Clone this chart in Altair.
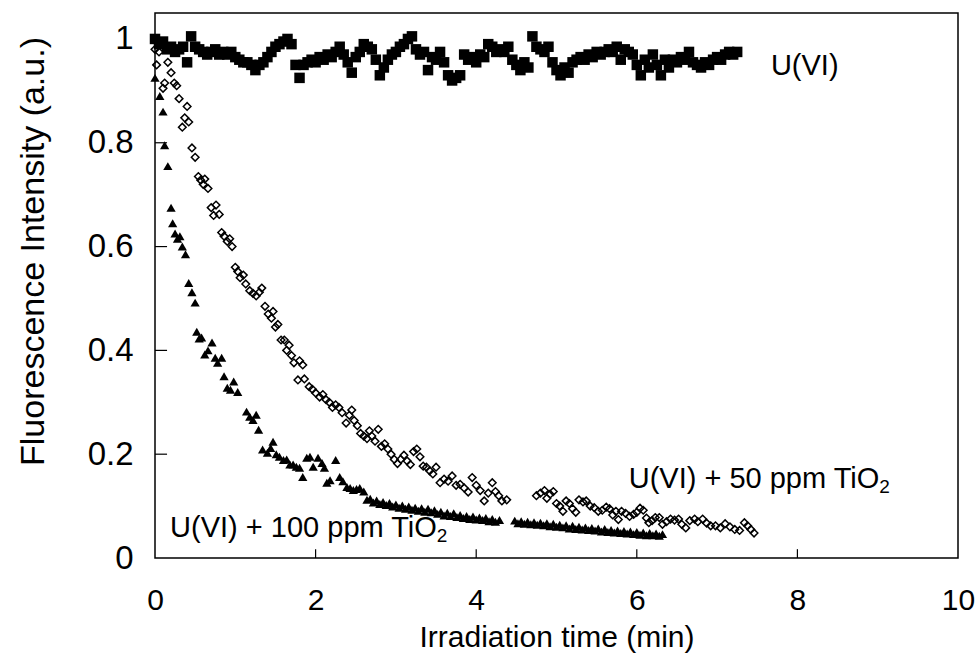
import altair as alt
import pandas as pd

# ---- U(VI) alone (filled squares)
u_time = [0.00, 0.05, 0.10, 0.15, 0.20, 0.25, 0.30, 0.35, 0.40, 0.45,
          0.50, 0.55, 0.60, 0.65, 0.70, 0.75, 0.80, 0.85, 0.90, 0.95,
          1.00, 1.05, 1.10, 1.15, 1.20, 1.25, 1.30, 1.35, 1.40, 1.45,
          1.50, 1.55, 1.60, 1.65, 1.70, 1.75, 1.80, 1.85, 1.90, 1.95,
          2.00, 2.05, 2.10, 2.15, 2.20, 2.25, 2.30, 2.35, 2.40, 2.45,
          2.50, 2.55, 2.60, 2.65, 2.70, 2.75, 2.80, 2.85, 2.90, 2.95,
          3.00, 3.05, 3.10, 3.15, 3.20, 3.25, 3.30, 3.35, 3.40, 3.45,
          3.50, 3.55, 3.60, 3.65, 3.70, 3.75, 3.80, 3.85, 3.90, 3.95,
          4.00, 4.05, 4.10, 4.15, 4.20, 4.25, 4.30, 4.35, 4.40, 4.45,
          4.50, 4.55, 4.60, 4.65, 4.70, 4.75, 4.80, 4.85, 4.90, 4.95,
          5.00, 5.05, 5.10, 5.15, 5.20, 5.25, 5.30, 5.35, 5.40, 5.45,
          5.50, 5.55, 5.60, 5.65, 5.70, 5.75, 5.80, 5.85, 5.90, 5.95,
          6.00, 6.05, 6.10, 6.15, 6.20, 6.25, 6.30, 6.35, 6.40, 6.45,
          6.50, 6.55, 6.60, 6.65, 6.70, 6.75, 6.80, 6.85, 6.90, 6.95,
          7.00, 7.05, 7.10, 7.15, 7.20, 7.25]
u_int = [1.000, 0.990, 0.995, 0.980, 0.985, 0.975, 0.980, 0.985, 0.955,
         1.005, 0.985, 0.980, 0.975, 0.970, 0.975, 0.980, 0.970, 0.975, 0.970, 0.975,
         0.965, 0.960, 0.955, 0.955, 0.950, 0.940, 0.950,
         0.955, 0.965, 0.975, 0.985, 0.990, 0.995, 1.000,
         0.990, 0.950, 0.925,
         0.950, 0.955, 0.960, 0.955, 0.965, 0.960, 0.970, 0.965, 0.975,
         0.985, 0.970, 0.955, 0.935, 0.965, 0.975, 0.990, 0.985, 0.980,
         0.960, 0.930, 0.945,
         0.960, 0.970, 0.975, 0.985, 0.990, 1.000, 1.005,
         0.980, 0.970, 0.975, 0.940, 0.965, 0.960, 0.975, 0.955,
         0.930, 0.920, 0.925, 0.930,
         0.970, 0.960, 0.965, 0.955, 0.970, 0.965,
         0.990, 0.985, 0.975, 0.980, 0.975, 0.985,
         0.960, 0.950, 0.940, 0.955, 0.945,
         1.005,
         0.985, 0.980, 0.975, 0.985,
         0.955, 0.940, 0.930, 0.945, 0.935, 0.955,
         0.960, 0.965, 0.960, 0.970, 0.965, 0.975, 0.970, 0.975,
         0.980, 0.975, 0.985, 0.960, 0.980, 0.975,
         0.970, 0.950, 0.930, 0.960, 0.945,
         0.970, 0.950, 0.930, 0.960, 0.945,
         0.960, 0.955, 0.965, 0.960, 0.975,
         0.955, 0.950, 0.945, 0.955, 0.950, 0.960,
         0.965, 0.960, 0.970, 0.975, 0.970, 0.975]

# ---- U(VI) + 50 ppm TiO2 (open diamonds)
t50_time = [0.00, 0.02, 0.05, 0.10, 0.12, 0.16, 0.20, 0.24, 0.27, 0.30,
            0.34, 0.37, 0.40, 0.42, 0.46, 0.50, 0.54, 0.57, 0.60, 0.62,
            0.66, 0.70, 0.73, 0.76, 0.80, 0.83, 0.86, 0.90, 0.93, 0.96,
            1.00, 1.03, 1.06, 1.10, 1.13, 1.18, 1.22, 1.26, 1.30, 1.33,
            1.37, 1.41, 1.45, 1.47, 1.50, 1.53, 1.57, 1.61, 1.64, 1.67,
            1.70, 1.73, 1.78, 1.80, 1.84, 1.86, 1.92, 1.96, 2.00, 2.05,
            2.09, 2.13, 2.17, 2.21, 2.25, 2.29, 2.33, 2.38, 2.42, 2.45,
            2.48, 2.52, 2.56, 2.60, 2.64, 2.67, 2.70, 2.74, 2.78, 2.82,
            2.86, 2.90, 2.94, 2.98, 3.02, 3.06, 3.10, 3.14, 3.18, 3.22,
            3.26, 3.30, 3.34, 3.38, 3.42, 3.46, 3.50, 3.55, 3.60, 3.65,
            3.70, 3.75, 3.80, 3.85, 3.90, 3.95, 4.00, 4.05, 4.10, 4.15,
            4.20, 4.24, 4.28, 4.32, 4.38,
            4.75, 4.80, 4.85, 4.88, 4.92, 4.96, 5.00, 5.04, 5.08, 5.12,
            5.16, 5.20, 5.24, 5.28, 5.33, 5.37, 5.42, 5.47, 5.52, 5.57,
            5.62, 5.66, 5.70, 5.74, 5.77, 5.81, 5.86, 5.91, 5.96, 6.00,
            6.04, 6.08, 6.12, 6.15, 6.19, 6.23, 6.28, 6.32, 6.37, 6.42,
            6.47, 6.52, 6.56, 6.61, 6.66, 6.72, 6.76, 6.82, 6.87, 6.92,
            6.98, 7.04, 7.10, 7.16, 7.22, 7.28, 7.34, 7.38, 7.42, 7.46]
t50_int = [0.980, 0.950, 0.975, 0.905, 0.915, 0.955, 0.935, 0.915, 0.910, 0.885,
           0.830, 0.848, 0.870, 0.840, 0.790, 0.772, 0.735, 0.728, 0.720, 0.730,
           0.712, 0.675, 0.660, 0.680, 0.662, 0.627, 0.620, 0.610, 0.615, 0.600,
           0.560, 0.552, 0.540, 0.545, 0.528, 0.515, 0.510, 0.505, 0.512, 0.520,
           0.485, 0.470, 0.462, 0.475, 0.445, 0.450, 0.420, 0.420, 0.400, 0.410,
           0.390, 0.376, 0.343, 0.380, 0.372, 0.345, 0.330, 0.325, 0.318, 0.310,
           0.315, 0.305, 0.300, 0.290, 0.295, 0.290, 0.280, 0.260, 0.275, 0.285,
           0.265, 0.255, 0.240, 0.235, 0.230, 0.245, 0.235, 0.225, 0.248, 0.215,
           0.220, 0.210, 0.200, 0.190, 0.182, 0.190, 0.198, 0.187, 0.180, 0.205,
           0.210, 0.195, 0.177, 0.175, 0.168, 0.162, 0.175, 0.145, 0.152, 0.148,
           0.158, 0.140, 0.142, 0.135, 0.127, 0.155, 0.140, 0.130, 0.110, 0.125,
           0.145, 0.128, 0.120, 0.110, 0.112,
           0.120, 0.125, 0.130, 0.115, 0.123, 0.128, 0.105, 0.100, 0.090, 0.110,
           0.105, 0.095, 0.088, 0.112, 0.108, 0.110, 0.100, 0.097, 0.090, 0.092,
           0.098, 0.095, 0.083, 0.090, 0.074, 0.090, 0.086, 0.080, 0.084, 0.088,
           0.096, 0.092, 0.077, 0.068, 0.072, 0.078, 0.078, 0.065, 0.070, 0.075,
           0.073, 0.075, 0.065, 0.058, 0.072, 0.075, 0.070, 0.075, 0.067, 0.062,
           0.062, 0.058, 0.066, 0.060, 0.055, 0.053, 0.068, 0.062, 0.055, 0.048]

# ---- U(VI) + 100 ppm TiO2 (filled triangles)
t100_time = [0.00, 0.06, 0.10, 0.12, 0.16, 0.20, 0.22, 0.25, 0.28, 0.31,
             0.34, 0.38, 0.42, 0.46, 0.50, 0.52, 0.55, 0.58, 0.62, 0.66,
             0.71, 0.75, 0.78, 0.83, 0.86, 0.90, 0.94, 0.98, 1.03, 1.14,
             1.18, 1.22, 1.26, 1.29, 1.34, 1.40, 1.44, 1.47, 1.51, 1.55,
             1.60, 1.64, 1.68, 1.72, 1.76, 1.80, 1.84, 1.89, 1.93, 1.97,
             2.03, 2.08, 2.11, 2.14, 2.18, 2.25, 2.30, 2.34, 2.39, 2.43,
             2.47, 2.51, 2.55, 2.60, 2.64,
             2.68, 2.72, 2.76, 2.80, 2.84, 2.88, 2.92, 2.96, 3.00, 3.04,
             3.08, 3.12, 3.16, 3.20, 3.24, 3.28, 3.32, 3.36, 3.40, 3.44,
             3.48, 3.52, 3.56, 3.60, 3.64, 3.68, 3.72, 3.76, 3.80, 3.84,
             3.88, 3.92, 3.96, 4.00, 4.04, 4.08, 4.12, 4.16, 4.20, 4.24, 4.29,
             4.48, 4.52, 4.56, 4.60, 4.64, 4.68, 4.72, 4.76, 4.80, 4.84,
             4.88, 4.92, 4.96, 5.00, 5.04, 5.08, 5.12, 5.16, 5.20, 5.24,
             5.28, 5.32, 5.36, 5.40, 5.44, 5.48, 5.52, 5.56, 5.60, 5.64,
             5.68, 5.72, 5.76, 5.80, 5.84, 5.88, 5.92, 5.96, 6.00, 6.04,
             6.08, 6.12, 6.16, 6.20, 6.24, 6.28, 6.32]
t100_int = [0.925, 0.890, 0.860, 0.795, 0.755, 0.675, 0.645, 0.625, 0.615, 0.620,
            0.600, 0.585, 0.530, 0.512, 0.492, 0.436, 0.423, 0.425, 0.392, 0.400,
            0.415, 0.386, 0.376, 0.386, 0.350, 0.328, 0.324, 0.340, 0.320, 0.282,
            0.272, 0.266, 0.276, 0.247, 0.209, 0.203, 0.212, 0.224, 0.200, 0.195,
            0.189, 0.190, 0.180, 0.180, 0.176, 0.174, 0.156, 0.193, 0.195, 0.176,
            0.193, 0.183, 0.174, 0.145, 0.150, 0.189, 0.156, 0.148, 0.137, 0.135,
            0.131, 0.133, 0.135, 0.128, 0.112,
            0.114, 0.107, 0.111, 0.104, 0.108, 0.102, 0.106, 0.099, 0.103, 0.097,
            0.101, 0.095, 0.099, 0.093, 0.097, 0.091, 0.096, 0.089, 0.095, 0.088,
            0.092, 0.085, 0.089, 0.082, 0.087, 0.081, 0.086, 0.079, 0.083, 0.077,
            0.081, 0.075, 0.080, 0.074, 0.078, 0.073, 0.077, 0.071, 0.075, 0.070, 0.073,
            0.072, 0.067, 0.071, 0.066, 0.070, 0.065, 0.069, 0.064, 0.068, 0.063,
            0.067, 0.061, 0.066, 0.060, 0.064, 0.059, 0.063, 0.057, 0.062, 0.056,
            0.060, 0.055, 0.059, 0.054, 0.058, 0.053, 0.057, 0.051, 0.056, 0.050,
            0.054, 0.049, 0.053, 0.048, 0.052, 0.047, 0.051, 0.046, 0.050, 0.045,
            0.049, 0.044, 0.048, 0.044, 0.047, 0.043, 0.046]

x_tick_values = [0, 2, 4, 6, 8, 10]
y_tick_values = [0, 0.2, 0.4, 0.6, 0.8, 1.0]
x_inner_ticks = [2, 4, 6, 8]
y_inner_ticks = [0.2, 0.4, 0.6, 0.8, 1.0]

label_main = ["U(VI)", "U(VI) + 50 ppm TiO", "U(VI) + 100 ppm TiO"]
label_x = [7.67, 9.02, 3.51]
label_y = [0.93, 0.135, 0.04]
label_align = ["left", "right", "right"]
sub_text = ["2", "2"]
sub_x = [9.02, 3.51]
sub_y = [0.135, 0.04]

FONT = "Liberation Sans"
W, H = 803, 545

xs = alt.Scale(domain=[0, 10], nice=False, zero=False)
ys = alt.Scale(domain=[0, 1.05], nice=False, zero=False)

x_axis = alt.Axis(values=x_tick_values, format="~g", title="Irradiation time (min)",
                  labelPadding=27, labelFontSize=30,
                  titleFontSize=30, titleBaseline="alphabetic", titleY=88,
                  labelFlush=False)
y_axis = alt.Axis(values=y_tick_values, format="~g",
                  title="Fluorescence Intensity (a.u.)",
                  labelPadding=22, labelFontSize=33, titleFontSize=34,
                  titleBaseline="alphabetic",
                  titleX=-112, titleY=238, titleAngle=-90)

df_u = pd.DataFrame({"t": u_time, "v": u_int})
df50 = pd.DataFrame({"t": t50_time, "v": t50_int})
df100 = pd.DataFrame({"t": t100_time, "v": t100_int})

squares = alt.Chart(df_u).mark_point(
    shape="square", filled=True, color="black", size=110, opacity=1
).encode(x=alt.X("t:Q", scale=xs, axis=x_axis), y=alt.Y("v:Q", scale=ys, axis=y_axis))

diamonds = alt.Chart(df50).mark_point(
    shape="diamond", filled=False, color="black", size=58, strokeWidth=1.5, opacity=1
).encode(x=alt.X("t:Q", scale=xs), y=alt.Y("v:Q", scale=ys))

triangles = alt.Chart(df100).mark_point(
    shape="triangle-up", filled=True, color="black", size=85, opacity=1
).encode(x=alt.X("t:Q", scale=xs), y=alt.Y("v:Q", scale=ys))

xticks = alt.Chart(pd.DataFrame({"t": x_inner_ticks})).mark_rule(
    color="black", strokeWidth=1.2
).encode(x=alt.X("t:Q", scale=xs), y=alt.datum(0), y2=alt.datum(0.017))

yticks = alt.Chart(pd.DataFrame({"v": y_inner_ticks})).mark_rule(
    color="black", strokeWidth=1.2
).encode(y=alt.Y("v:Q", scale=ys), x=alt.datum(0), x2=alt.datum(0.15))

df_lab = pd.DataFrame({"t": label_x, "v": label_y, "txt": label_main, "al": label_align})
lab_left = alt.Chart(df_lab[df_lab["al"] == "left"]).mark_text(
    align="left", baseline="alphabetic", font=FONT, fontSize=29, color="black"
).encode(x=alt.X("t:Q", scale=xs), y=alt.Y("v:Q", scale=ys), text="txt:N")
lab_right = alt.Chart(df_lab[df_lab["al"] == "right"]).mark_text(
    align="right", baseline="alphabetic", font=FONT, fontSize=29, color="black"
).encode(x=alt.X("t:Q", scale=xs), y=alt.Y("v:Q", scale=ys), text="txt:N")

df_sub = pd.DataFrame({"t": sub_x, "v": sub_y, "txt": sub_text})
lab_sub = alt.Chart(df_sub).mark_text(
    align="left", baseline="alphabetic", font=FONT, fontSize=19, color="black", dy=5
).encode(x=alt.X("t:Q", scale=xs), y=alt.Y("v:Q", scale=ys), text="txt:N")

chart = alt.layer(
    squares, diamonds, triangles, xticks, yticks, lab_left, lab_right, lab_sub
).properties(
    width=W, height=H,
    autosize=alt.AutoSizeParams(type="none"),
    padding={"left": 155, "top": 13, "right": 21, "bottom": 96},
    background="white",
).configure_view(
    stroke="black", strokeWidth=1.5
).configure_axis(
    domain=False, ticks=False, tickSize=0, grid=False,
    labelFont=FONT, labelColor="black",
    titleFont=FONT, titleFontWeight="normal", titleColor="black",
)

chart.save("out.html", embed_options={"renderer": "svg", "actions": False})
